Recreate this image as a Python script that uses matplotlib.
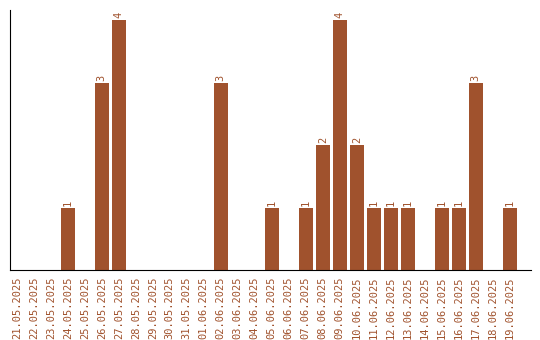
import numpy as np
import matplotlib.pyplot as plt

dates = ['21.05.2025', '22.05.2025', '23.05.2025', '24.05.2025', '25.05.2025',
         '26.05.2025', '27.05.2025', '28.05.2025', '29.05.2025', '30.05.2025',
         '31.05.2025', '01.06.2025', '02.06.2025', '03.06.2025', '04.06.2025',
         '05.06.2025', '06.06.2025', '07.06.2025', '08.06.2025', '09.06.2025',
         '10.06.2025', '11.06.2025', '12.06.2025', '13.06.2025', '14.06.2025',
         '15.06.2025', '16.06.2025', '17.06.2025', '18.06.2025', '19.06.2025']
counts = [0, 0, 0, 1, 0, 3, 4, 0, 0, 0, 0, 0, 3, 0, 0,
          1, 0, 1, 2, 4, 2, 1, 1, 1, 0, 1, 1, 3, 0, 1]

color = '#A0522D'
x = np.arange(len(dates))

fig = plt.figure(figsize=(5.4, 3.4), dpi=100)
ax = fig.add_axes([10/540, 70/340, 521/540, 260/340])
ax.bar(x, counts, width=0.82, color=color)

# value labels above non-zero bars
for xi, c in zip(x, counts):
    if c > 0:
        ax.text(xi, c + 0.03, str(c), rotation=90, ha='center', va='bottom',
                color=color, fontsize=7.5, family='DejaVu Sans Mono')

ax.set_xlim(-0.4, 30.25)
ax.set_ylim(0, 4.16)
ax.set_xticks(x)
ax.set_xticklabels(dates, rotation=90, color=color, fontsize=7.5, family='DejaVu Sans Mono')
ax.tick_params(axis='x', length=0, pad=5)
ax.set_yticks([])
ax.spines['top'].set_visible(False)
ax.spines['right'].set_visible(False)

fig.savefig('out.png', dpi=100)
